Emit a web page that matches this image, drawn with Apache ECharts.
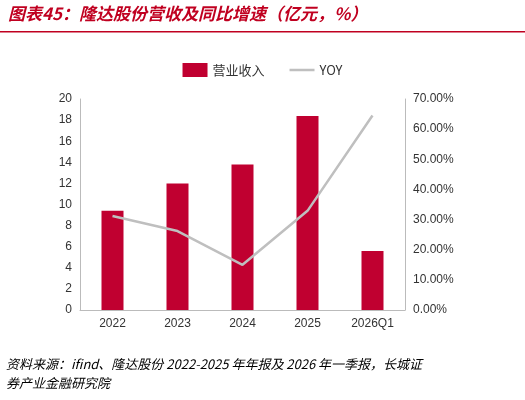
<!DOCTYPE html><html><head><meta charset="utf-8"><script src="https://cdn.jsdelivr.net/npm/echarts@6/dist/echarts.min.js"></script>
<style>body{margin:0}#c{width:525px;height:400px}</style></head><body><div id="c"></div><script>
var categories=['2022','2023','2024','2025','2026Q1'];
var revenue=[9.4,12.0,13.8,18.4,5.6];
var yoy=[31.2,26.2,15.0,32.9,64.5];
var c=echarts.init(document.getElementById('c'));
var f='"Noto Sans CJK SC",sans-serif';
c.setOption({
graphic:[
{type:'text',left:8,top:5,style:{text:'图表45：隆达股份营收及同比增速（亿元，%）',fill:'#c00020',font:'italic bold 17px '+f}},
{type:'rect',shape:{x:0,y:31,width:525,height:1.5},style:{fill:'#c00020'}},
{type:'text',left:6,top:355,style:{text:'资料来源：ifind、隆达股份 2022-2025 年年报及 2026 年一季报，长城证\n券产业金融研究院',fill:'#000',font:'italic 13px '+f,lineHeight:19}}
],
legend:{top:58,left:'center',itemGap:25,textStyle:{fontSize:13,color:'#333',fontFamily:f},data:[{name:'营业收入',icon:'rect'},{name:'YOY',icon:'path://M0,0H30V3H0Z'}]},
grid:{left:80,right:120,top:99,bottom:90},
xAxis:{type:'category',data:categories,axisTick:{show:false},axisLine:{lineStyle:{color:'#bbb'}},axisLabel:{color:'#333',fontSize:12}},
yAxis:[{type:'value',min:0,max:20,interval:2,splitLine:{show:false},axisLine:{show:true,lineStyle:{color:'#bbb'}},axisLabel:{color:'#333',fontSize:12}},
{type:'value',min:0,max:70,interval:10,splitLine:{show:false},axisLine:{show:true,lineStyle:{color:'#bbb'}},axisLabel:{color:'#333',fontSize:12,formatter:function(v){return v.toFixed(2)+'%'}}}],
series:[{name:'营业收入',type:'bar',data:revenue,barWidth:22,itemStyle:{color:'#c00030'}},
{name:'YOY',type:'line',yAxisIndex:1,data:yoy,symbol:'none',lineStyle:{color:'#bfbfbf',width:2.5},itemStyle:{color:'#bfbfbf'}}]
});
</script></body></html>
